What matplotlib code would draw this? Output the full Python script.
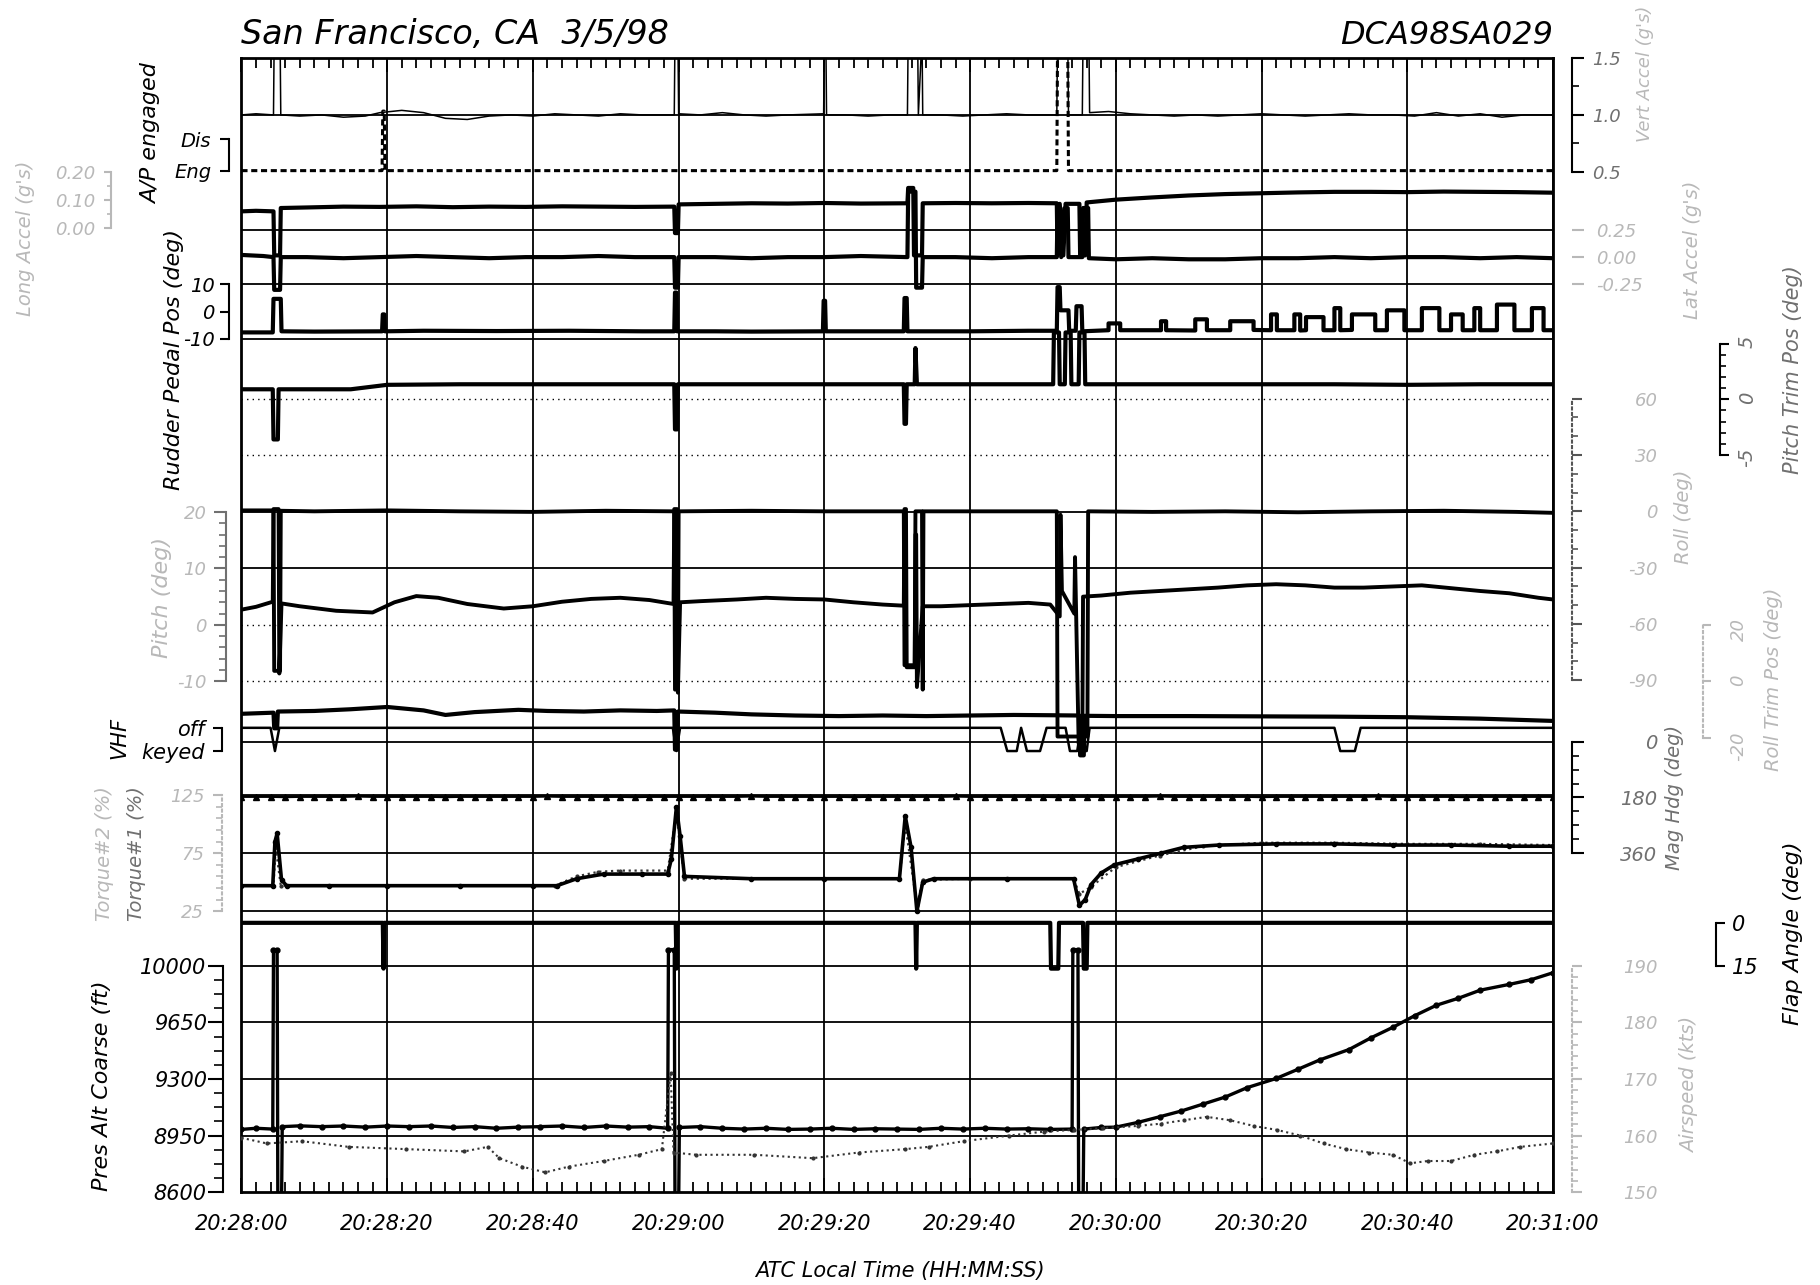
import numpy as np
import matplotlib.pyplot as plt

plt.rcParams['font.family'] = 'DejaVu Sans'
plt.rcParams['font.style'] = 'italic'

# ---- data (time in seconds after 20:28:00) ----
tick_t = [0, 20, 40, 60, 80, 100, 120, 140, 160, 180]
tick_lbl = ['20:28:00', '20:28:20', '20:28:40', '20:29:00', '20:29:20',
            '20:29:40', '20:30:00', '20:30:20', '20:30:40', '20:31:00']

vert_acc = [(0, 1.00), (2, 1.01), (4.4, 1.00), (4.5, 1.7), (5.3, 1.7), (5.4, 1.00), (8, 0.99), (11, 1.00),
            (14, 0.98), (17, 0.99), (19, 1.02), (22, 1.04), (25, 1.02), (28, 0.97), (31, 0.96), (34, 0.99),
            (37, 1.00), (40, 0.99), (43, 1.01), (46, 1.00), (49, 0.99), (52, 1.01), (55, 1.00), (59.4, 1.00),
            (59.5, 1.7), (59.9, 1.7), (60, 1.01), (63, 1.00), (66, 1.02), (69, 1.00), (72, 0.99), (75, 1.00),
            (79.9, 1.01), (80, 1.7), (80.2, 1.7), (80.3, 1.00), (83, 1.00), (86, 0.99), (89, 1.00), (91.4, 1.00),
            (91.5, 1.7), (92.8, 1.7), (92.9, 1.00), (93.4, 1.7), (93.5, 1.00), (96, 1.00), (99, 0.99), (102, 1.00),
            (105, 1.01), (108, 1.00), (111.9, 1.00), (112, 1.7), (113.4, 1.7), (113.5, 1.00), (115.4, 1.00),
            (115.5, 1.7), (116.3, 1.7), (116.4, 1.02), (119, 1.03), (122, 1.01), (125, 1.00), (128, 0.99),
            (131, 1.00), (134, 0.99), (137, 1.00), (140, 1.01), (143, 1.00), (146, 0.99), (149, 1.00),
            (152, 1.01), (155, 1.00), (158, 1.00), (161, 0.99), (164, 1.02), (167, 0.99), (170, 1.01),
            (173, 0.98), (176, 1.00), (180, 1.00)]

ap_eng = [(0, 0), (19.3, 0), (19.4, 1.9), (19.6, 1.9), (19.7, 0), (111.9, 0), (112, 4), (113.4, 4),
          (113.5, 0), (180, 0)]

long_acc = [(0, 0.058), (2, 0.060), (4.4, 0.058), (4.5, -0.10), (5.3, -0.10), (5.4, 0.070), (9, 0.072),
            (14, 0.075), (19, 0.074), (24, 0.076), (29, 0.073), (34, 0.075), (39, 0.074), (44, 0.076),
            (49, 0.075), (54, 0.074), (59.4, 0.075), (59.5, -0.02), (59.9, -0.02), (60, 0.083), (65, 0.085),
            (70, 0.087), (75, 0.086), (80, 0.088), (85, 0.086), (91.4, 0.087), (91.5, 0.142), (92.2, 0.142),
            (92.3, -0.10), (93.4, -0.10), (93.5, 0.087), (98, 0.088), (103, 0.087), (108, 0.088),
            (111.9, 0.087), (112, -0.10), (112.3, 0.085), (112.8, -0.10), (113.1, 0.085), (115, 0.085),
            (115.1, -0.10), (115.8, -0.10), (116, 0.090), (120, 0.100), (125, 0.108), (130, 0.115),
            (135, 0.120), (140, 0.123), (145, 0.126), (150, 0.128), (155, 0.128), (160, 0.127),
            (165, 0.129), (170, 0.128), (175, 0.127), (180, 0.125)]

lat_acc = [(0, 0.02), (3, 0.01), (4.4, 0.0), (4.5, -0.30), (5.3, -0.30), (5.4, 0.0), (9, 0.0), (14, -0.01),
           (19, 0.0), (24, 0.01), (29, 0.0), (34, -0.01), (39, 0.0), (44, 0.0), (49, 0.01), (54, 0.0),
           (59.4, 0.0), (59.5, -0.28), (59.9, -0.28), (60, 0.0), (65, 0.0), (70, -0.01), (75, 0.0), (80, 0.0),
           (85, 0.01), (91.4, 0.0), (91.5, 0.6), (92.5, 0.6), (92.6, -0.28), (93.4, -0.28), (93.5, 0.0),
           (98, 0.0), (103, -0.01), (108, 0.0), (111.9, 0.0), (112, 0.45), (112.4, 0.45), (112.5, 0.0),
           (113, 0.45), (113.4, 0.45), (113.5, 0.0), (115.4, 0.0), (115.5, 0.45), (116.2, 0.45),
           (116.3, -0.01), (120, -0.02), (125, -0.01), (130, -0.02), (135, -0.02), (140, -0.01),
           (145, -0.01), (150, 0.0), (155, -0.01), (160, 0.0), (165, 0.0), (170, -0.01), (175, 0.0),
           (180, -0.01)]

rudder = [(0, -7.6), (4.3, -7.6), (4.4, 4.7), (5.4, 4.7), (5.5, -7.2), (10, -7.3), (19.3, -7.2),
          (19.4, -1.0), (19.6, -1.0), (19.7, -7.2), (25, -7.0), (35, -7.1), (45, -7.0), (55, -7.2),
          (59.4, -7.2), (59.5, 7.0), (59.7, 7.0), (59.8, -7.2), (65, -7.2), (70, -7.3), (79.8, -7.2),
          (79.9, 4.0), (80.1, 4.0), (80.2, -7.2), (85, -7.2), (90.9, -7.2), (91, 5.0), (91.3, 5.0),
          (91.4, -7.2), (100, -7.2), (108, -7.0), (111.9, -7.0), (112, 9.0), (112.3, 9.0), (112.4, 0.5),
          (113.5, 0.5), (113.6, -7.0), (114.5, -7.0), (114.6, 2.0), (115.3, 2.0), (115.4, -7.2),
          (119.0, -6.8), (119.0, -4.3), (120.6, -4.3), (120.6, -6.8), (126.2, -6.8), (126.2, -3.5),
          (126.9, -3.5), (126.9, -6.8), (130.9, -6.9), (130.9, -2.8), (132.5, -2.8), (132.5, -6.8),
          (135.7, -6.8), (135.7, -3.5), (138.9, -3.5), (138.9, -6.7), (141.3, -6.8), (141.3, -1.0),
          (142.1, -1.0), (142.1, -6.8), (144.5, -6.8), (144.5, -1.0), (145.3, -1.0), (145.3, -6.9),
          (146.1, -6.8), (146.1, -2.0), (148.5, -2.0), (148.5, -6.8), (150.0, -6.8), (150.0, 1.3),
          (150.8, 1.3), (150.8, -6.8), (152.4, -6.7), (152.4, -1.0), (155.6, -1.0), (155.6, -6.8),
          (157.2, -6.8), (157.2, 0.5), (159.6, 0.5), (159.6, -6.8), (162.0, -6.8), (162.0, 1.3),
          (164.4, 1.3), (164.4, -6.8), (166.0, -6.8), (166.0, -1.0), (167.6, -1.0), (167.6, -6.8),
          (169.2, -6.8), (169.2, 1.3), (170.0, 1.3), (170.0, -6.8), (172.3, -6.8), (172.3, 2.6),
          (174.7, 2.6), (174.7, -6.8), (177.1, -6.8), (177.1, 1.3), (178.7, 1.3), (178.7, -6.8),
          (180, -6.8)]

pitch_trim = [(0, 0.9), (4.3, 0.9), (4.4, -3.6), (5.0, -3.6), (5.1, 0.9), (10, 0.9), (15, 0.9), (20, 1.3),
              (30, 1.35), (40, 1.35), (50, 1.35), (59.4, 1.35), (59.5, -2.7), (59.8, -2.7), (59.9, 1.35),
              (70, 1.35), (80, 1.35), (90.9, 1.35), (91, -2.2), (91.2, -2.2), (91.3, 1.35), (92.4, 1.35),
              (92.5, 4.6), (92.7, 1.35), (100, 1.35), (111.4, 1.35), (111.5, 6), (112.2, 6), (112.3, 1.35),
              (113, 1.35), (113.1, 6), (113.8, 6), (113.9, 1.35), (114.9, 1.35), (115, 6), (115.7, 6),
              (115.8, 1.35), (120, 1.35), (130, 1.35), (140, 1.35), (150, 1.35), (160, 1.3), (170, 1.35),
              (180, 1.35)]

roll = [(0, 0.5), (4.4, 0.5), (4.5, -85), (5.3, -85), (5.4, 0.3), (10, 0.0), (20, 0.5), (30, 0.0),
        (40, -0.3), (50, 0.3), (59.4, 0.0), (59.5, -95), (59.9, -95), (60, 0.0), (70, 0.3), (80, 0.0),
        (90.9, 0.0), (91, -82), (92.4, -82), (92.5, 0.0), (93.4, 0.0), (93.5, -95), (93.6, 0.0), (100, 0.0),
        (111.9, 0.0), (112, -120), (116.1, -120), (116.2, 0.0), (125, -0.3), (135, 0.0), (145, -0.5),
        (155, 0.0), (165, 0.3), (175, -0.3), (180, -0.8)]

pitch = [(0, 2.7), (2, 3.2), (4.3, 4.1), (4.4, 20.5), (5.1, 20.5), (5.2, -8.6), (5.5, 3.8), (8, 3.3),
         (13, 2.5), (18, 2.2), (21, 4.0), (24, 5.1), (27, 4.8), (31, 3.7), (36, 2.9), (40, 3.3), (44, 4.1),
         (48, 4.6), (52, 4.8), (56, 4.4), (59.3, 3.7), (59.4, 20.5), (59.8, 20.5), (59.9, -12), (60.2, 4.0),
         (63, 4.2), (68, 4.5), (72, 4.8), (76, 4.6), (80, 4.5), (84, 4.0), (88, 3.6), (90.9, 3.4), (91, 20.5),
         (91.2, 20.5), (91.3, -7.5), (92.4, -7.5), (92.5, 16), (92.6, 16), (92.7, -11), (93.5, 3.3),
         (96, 3.3), (100, 3.5), (104, 3.7), (108, 3.9), (111, 3.6), (112.3, 1.5), (112.4, 19.5),
         (112.6, 6), (114.3, 2.0), (114.4, 12), (114.9, -21), (115.4, -21), (115.5, 5.0), (118, 5.2),
         (122, 5.7), (126, 6.0), (130, 6.3), (134, 6.6), (138, 7.0), (142, 7.2), (146, 7.0), (150, 6.6),
         (154, 6.6), (158, 6.8), (162, 7.0), (166, 6.5), (170, 6.0), (174, 5.6), (178, 4.8), (180, 4.5)]

roll_trim = [(0, -11.4), (4.4, -11.0), (4.5, -16.5), (4.9, -16.5), (5.0, -10.6), (10, -10.4), (15, -9.8),
             (20, -9.0), (25, -10.2), (28, -11.8), (32, -10.8), (38, -10.0), (42, -10.4), (47, -10.6),
             (52, -10.2), (57, -10.4), (59.4, -10.2), (59.5, -24), (59.8, -24), (59.9, -10.6), (65, -11.0),
             (70, -11.6), (76, -12.0), (82, -12.2), (88, -12.0), (94, -12.2), (100, -12.0), (106, -11.8),
             (111, -11.9), (115, -12.0), (115.1, -26), (115.6, -26), (115.7, -12.1), (120, -12.2),
             (130, -12.2), (140, -12.3), (150, -12.4), (160, -12.6), (170, -13.1), (180, -13.9)]

vhf = [(0, 1), (4.0, 1), (4.6, 0), (5.2, 1), (59.2, 1), (59.7, 0), (60.2, 1), (104.2, 1), (105.1, 0),
       (106.4, 0), (107.0, 1), (107.8, 0), (109.6, 0), (110.5, 1), (113.1, 1), (113.7, 0), (114.7, 0),
       (115.2, 1), (115.5, 0), (116.0, 0), (116.4, 1), (150.0, 1), (150.8, 0), (152.8, 0), (153.6, 1),
       (180, 1)]

hdg_t = list(range(0, 181, 2))
hdg = [177, 177, 177, 178, 177, 177, 177, 177, 176, 177,
       177, 177, 177, 177, 178, 177, 177, 177, 177, 177,
       177, 176, 177, 177, 177, 177, 177, 178, 177, 177,
       177, 177, 177, 177, 177, 176, 177, 177, 177, 177,
       177, 177, 178, 177, 177, 177, 177, 177, 177, 176,
       177, 177, 177, 177, 177, 177, 178, 177, 177, 177,
       177, 177, 177, 176, 177, 177, 177, 177, 177, 177,
       178, 177, 177, 177, 177, 177, 177, 177, 176, 177,
       177, 177, 177, 177, 178, 177, 177, 177, 177, 177,
       177]

torque1 = [(0, 47), (4.3, 47), (4.6, 85), (4.9, 92), (5.5, 52), (6.2, 47), (12, 47), (20, 47), (30, 47),
           (40, 47), (43.3, 47), (46, 53), (49.7, 57), (55, 57), (58.5, 57), (59, 70), (59.7, 115),
           (60.2, 90), (60.8, 55), (70, 53), (80, 53), (90.3, 53), (91.1, 107), (91.9, 80), (92.7, 25),
           (93.5, 50), (95, 53), (105, 53), (114.2, 53), (115, 30), (115.8, 35), (116.6, 48), (118, 58),
           (119.8, 65), (123, 70), (126.2, 75), (129.3, 80), (134.1, 82), (142, 83), (150, 83), (158, 82),
           (166, 82), (174, 81), (180, 81)]

torque2 = [(0, 47), (4.4, 47), (4.7, 80), (5.4, 47), (20, 47), (43, 47), (46, 55), (49, 59), (52, 60),
           (58.5, 60), (59.7, 110), (60.8, 53), (70, 53), (80, 53), (90.3, 53), (91.1, 100), (92.7, 30),
           (93.5, 52), (100, 53), (114.2, 53), (115, 40), (116.6, 46), (120, 63), (126, 73), (132, 81),
           (140, 84), (150, 84), (160, 83), (170, 83), (180, 82)]

flap = [(0, 0), (19.4, 0), (19.5, 16), (19.6, 0), (59.6, 0), (59.7, 16), (59.8, 0), (92.5, 0), (92.6, 16),
        (92.7, 0), (111.0, 0), (111.1, 16), (112.1, 16), (112.2, 0), (115.5, 0), (115.6, 16), (116.0, 16),
        (116.1, 0), (180, 0)]

alt = [(0, 8988), (2, 8995), (4.3, 8990), (4.4, 10100), (4.9, 10100), (5.0, 8500), (5.5, 8500),
       (5.6, 9005), (8, 9010), (11, 9005), (14, 9009), (17, 9002), (20, 9009), (23, 9005), (26, 9009),
       (29, 9000), (32, 9005), (35, 8995), (38, 9002), (41, 9005), (44, 9009), (47, 9000), (50, 9009),
       (53, 9002), (56, 9005), (58.5, 8995), (58.6, 10100), (59.4, 10100), (59.5, 8500), (60.0, 8500),
       (60.1, 9000), (63, 9005), (66, 8995), (69, 8990), (72, 8995), (75, 8988), (78, 8990), (81, 8995),
       (84, 8988), (87, 8992), (90, 8990), (93, 8988), (96, 8995), (99, 8990), (102, 8995), (105, 8990),
       (108, 8992), (111, 8988), (114.0, 8990), (114.1, 10100), (114.8, 10100), (114.9, 8500),
       (115.5, 8500), (115.6, 8990), (118, 9000), (120, 9002), (123, 9031), (126, 9066), (129, 9102),
       (132, 9145), (135, 9188), (138, 9246), (142, 9303), (145, 9360), (148, 9418), (152, 9482),
       (155, 9554), (158, 9619), (161, 9691), (164, 9756), (167, 9799), (170, 9849), (174, 9885),
       (177, 9914), (180, 9957)]

airspeed = [(0, 159.6), (3.5, 158.6), (8.3, 159.0), (14.7, 158.0), (22.6, 157.6), (30.6, 157.2),
            (33.8, 158.0), (35.4, 156.0), (38.5, 154.5), (41.7, 153.5), (44.9, 154.5), (49.7, 155.5),
            (54.5, 156.6), (57.7, 157.6), (58.9, 171.0), (59.3, 157.0), (62.4, 156.6), (70.4, 156.6),
            (78.4, 156.0), (84.7, 157.0), (91.1, 157.6), (94.3, 158.0), (99.1, 159.0), (105.4, 160.0),
            (110.2, 160.7), (114.2, 161.0), (118.2, 161.3), (123.0, 161.7), (126.2, 162.1), (129.3, 162.7),
            (132.5, 163.3), (135.7, 162.7), (138.9, 161.7), (142.1, 161.0), (145.3, 160.0), (148.5, 158.6),
            (151.6, 157.6), (154.8, 157.0), (158.0, 156.6), (160.4, 155.1), (162.8, 155.5), (166.0, 155.5),
            (169.2, 156.6), (172.3, 157.2), (175.5, 158.0), (180.0, 158.6)]

# ---- layout (pixel grid of the reference picture) ----
W, H = 1568, 1107
L, R, T, B = 208, 1338, 50, 1027
PT = 1820 / W * 0.72
FAINT = '#b8b8b8'
MID = '#707070'

fig = plt.figure(figsize=(18.2, 12.85), dpi=100)
ax = fig.add_axes([L / W, 1 - B / H, (R - L) / W, (B - T) / H])
ax.set_xlim(0, 180)
ax.set_ylim(0, 1)
ax.set_yticks([])
ax.set_xticks(tick_t, labels=tick_lbl)
ax.set_xticks(np.arange(0, 181, 2), minor=True)
ax.tick_params(axis='x', which='both', direction='in', top=True, bottom=True, width=1.3)
ax.tick_params(axis='x', which='major', length=10, labelsize=15, pad=16)
ax.tick_params(axis='x', which='minor', length=7)
ax.grid(axis='x', which='major', color='k', lw=1.3)
for s in ax.spines.values():
    s.set_linewidth(2)


def param(v1, y1, v2, y2):
    a = ax.twinx()
    k = (v1 - v2) / (y1 - y2)
    a.set_ylim(v2 + (B - y2) * k, v2 + (T - y2) * k)
    for s in a.spines.values():
        s.set_visible(False)
    a.set_yticks([])
    return a


def scale(a, side, x, ticks, labels, minor=(), lo=None, hi=None, tick=8, edge=None, ls='-',
          spine=True, color='k', lcolor='k', size=13, rot=0, ha=None):
    sp = a.spines[side]
    sp.set_visible(spine)
    sp.set_position(('outward', abs(x - (L if side == 'left' else R)) * PT))
    sp.set_linestyle(ls)
    sp.set_color(color)
    sp.set_linewidth(1.5)
    sp.set_bounds(min(ticks) if lo is None else lo, max(ticks) if hi is None else hi)
    a.yaxis.set_ticks_position(side)
    a.set_yticks(ticks, labels=labels)
    a.set_yticks(list(minor), minor=True)
    gap = abs(edge - x) - tick
    a.tick_params(axis='y', which='major', direction='out', length=tick * PT, width=1.5, color=color,
                  labelcolor=lcolor, labelsize=size, pad=gap * PT, labelrotation=rot)
    a.tick_params(axis='y', which='minor', direction='out', length=tick * 0.6 * PT, width=1.2, color=color)
    if ha:
        plt.setp(a.get_yticklabels(), ha=ha)


def trace(a, pts, **kw):
    t, v = zip(*pts)
    a.plot(t, v, **kw)


def label(x, y, s, color='k', size=16, rot=90):
    fig.text(x / W, 1 - y / H, s, color=color, fontsize=size, rotation=rot, ha='center', va='center')


# vertical acceleration
a = param(1.5, 50, 0.5, 148)
a.axhline(1.0, color='k', lw=1.3)
scale(a, 'right', 1354, [1.5, 1.0, 0.5], ['1.5', '1.0', '0.5'], minor=[1.25, 0.75], tick=10, edge=1372,
      lcolor=MID)
trace(a, vert_acc, color='k', lw=1.1)

# autopilot
a = param(1, 120, 0, 147)
scale(a, 'left', 197, [1, 0], ['Dis', 'Eng'], tick=8, edge=182, size=14)
trace(a, ap_eng, color='k', lw=2.2, ls=(0, (2, 1.2)))

# longitudinal acceleration
a = param(0.2, 148, 0.0, 196)
scale(a, 'left', 96, [0.2, 0.1, 0.0], ['0.20', '0.10', '0.00'], minor=[0.15, 0.05], tick=6, edge=82,
      color=FAINT, lcolor=FAINT)
trace(a, long_acc, color='k', lw=3)

# lateral acceleration
a = param(0.25, 198, -0.25, 245)
a.axhline(0.25, color='k', lw=1.3)
scale(a, 'right', 1354, [0.25, 0.0, -0.25], ['0.25', '0.00', '-0.25'], tick=10, edge=1375, spine=False,
      color=FAINT, lcolor=FAINT)
trace(a, lat_acc, color='k', lw=3)

# rudder pedal
a = param(10, 245, -10, 292)
a.axhline(10, color='k', lw=1.3)
a.axhline(-10, color='k', lw=1.3)
scale(a, 'left', 197, [10, 0, -10], ['10', '0', '-10'], tick=8, edge=185, size=14)
trace(a, rudder, color='k', lw=3)

# pitch trim
a = param(5, 296, -5, 392)
scale(a, 'right', 1482, [5, 0, -5], ['5', '0', '-5'], minor=[4, 3, 2, 1, -1, -2, -3, -4], tick=8,
      edge=1497, lcolor=MID, size=14, rot=90)
trace(a, pitch_trim, color='k', lw=3)

# roll
a = param(30, 392, -30, 489)
a.axhline(60, color='k', lw=1, ls=(0, (1, 3)))
a.axhline(30, color='k', lw=1, ls=(0, (1, 3)))
scale(a, 'right', 1354, [60, 30, 0, -30, -60, -90], ['60', '30', '0', '-30', '-60', '-90'],
      minor=[50, 40, 20, 10, -10, -20, -40, -50, -70, -80], tick=9, edge=1428, ls=':', color='#555',
      lcolor=FAINT, ha='right')
trace(a, roll, color='k', lw=2.8)

# pitch
a = param(20, 441, -10, 587)
a.axhline(20, color='k', lw=1.3)
a.axhline(10, color='k', lw=1.3)
a.axhline(0, color='k', lw=1, ls=(0, (1, 3)))
a.axhline(-10, color='k', lw=1, ls=(0, (1, 3)))
scale(a, 'left', 195, [20, 10, 0, -10], ['20', '10', '0', '-10'],
      minor=[18, 16, 14, 12, 8, 6, 4, 2, -2, -4, -6, -8], tick=10, edge=178, color=MID, lcolor=FAINT)
trace(a, pitch, color='k', lw=2.8)

# roll trim
a = param(20, 538, -20, 636)
scale(a, 'right', 1467, [20, 0, -20], ['20', '0', '-20'], tick=7, edge=1490, ls=':', color=FAINT,
      lcolor=FAINT, rot=90)
trace(a, roll_trim, color='k', lw=3)

# VHF keying
a = param(1, 627, 0, 647)
scale(a, 'left', 191, [1, 0], ['off', 'keyed'], tick=8, edge=176, size=15)
trace(a, vhf, color='k', lw=1.8)

# magnetic heading
a = param(0, 639, 360, 735)
a.axhline(0, color='k', lw=1.3)
scale(a, 'right', 1354, [0, 180, 360], ['0', '180', '360'], minor=[45, 90, 135, 225, 270, 315], tick=10,
      edge=1428, lcolor=MID, ha='right', size=14)
a.plot(hdg_t, hdg, color='k', lw=2, marker='^', ms=4.5)

# torque
a = param(125, 685, 25, 785)
for v in [125, 75, 25]:
    a.axhline(v, color='k', lw=1.3)
scale(a, 'left', 191, [125, 75, 25], ['125', '75', '25'], minor=[115, 105, 95, 85, 65, 55, 45, 35],
      tick=8, edge=176, ls=':', color=FAINT, lcolor=FAINT)
trace(a, torque2, color='#333', lw=1.6, ls=':', marker='.', ms=4)
trace(a, torque1, color='k', lw=2.6, marker='o', ms=3)

# flaps
a = param(0, 795, 15, 832)
scale(a, 'right', 1478, [0, 15], ['0', '15'], tick=8, edge=1492, size=15)
trace(a, flap, color='k', lw=3)

# pressure altitude
a = param(10000, 832, 8600, 1027)
for v in [10000, 9650, 9300, 8950]:
    a.axhline(v, color='k', lw=1.3)
scale(a, 'left', 192, [10000, 9650, 9300, 8950, 8600], ['10000', '9650', '9300', '8950', '8600'],
      minor=[9912.5, 9825, 9737.5, 9562.5, 9475, 9387.5, 9212.5, 9125, 9037.5, 8862.5, 8775, 8687.5],
      tick=13, edge=178, size=15)
trace(a, alt, color='k', lw=2.4, marker='o', ms=3.5)

# airspeed
a = param(190, 832, 150, 1027)
scale(a, 'right', 1354, [190, 180, 170, 160, 150], ['190', '180', '170', '160', '150'],
      minor=[188, 186, 184, 182, 178, 176, 174, 172, 168, 166, 164, 162, 158, 156, 154, 152],
      tick=9, edge=1428, ls=':', color=FAINT, lcolor=FAINT, ha='right')
trace(a, airspeed, color='#333', lw=1.5, ls=':', marker='.', ms=4)

# ---- titles and parameter names ----
fig.text(L / W, 1 - 44 / H, 'San Francisco, CA  3/5/98', fontsize=24, ha='left', va='bottom')
fig.text(R / W, 1 - 44 / H, 'DCA98SA029', fontsize=23, ha='right', va='bottom')
label(775, 1095, 'ATC Local Time (HH:MM:SS)', size=15, rot=0)

label(22, 205, "Long Accel (g's)", color=FAINT, size=14)
label(130, 115, 'A/P engaged', size=16)
label(150, 310, 'Rudder Pedal Pos (deg)', size=16)
label(140, 515, 'Pitch (deg)', color=FAINT, size=16)
label(103, 636, 'VHF', size=15)
label(90, 735, 'Torque#2 (%)', color=FAINT, size=14)
label(118, 735, 'Torque#1 (%)', color=MID, size=14)
label(88, 935, 'Pres Alt Coarse (ft)', size=16)

label(1417, 64, "Vert Accel (g's)", color=FAINT, size=13)
label(1458, 215, "Lat Accel (g's)", color=FAINT, size=14)
label(1545, 318, 'Pitch Trim Pos (deg)', color=MID, size=15)
label(1450, 445, 'Roll (deg)', color=FAINT, size=14)
label(1528, 585, 'Roll Trim Pos (deg)', color=FAINT, size=14)
label(1443, 687, 'Mag Hdg (deg)', color=MID, size=14)
label(1545, 804, 'Flap Angle (deg)', size=16)
label(1456, 935, 'Airspeed (kts)', color=FAINT, size=14)

fig.savefig('out.png', dpi=100)
